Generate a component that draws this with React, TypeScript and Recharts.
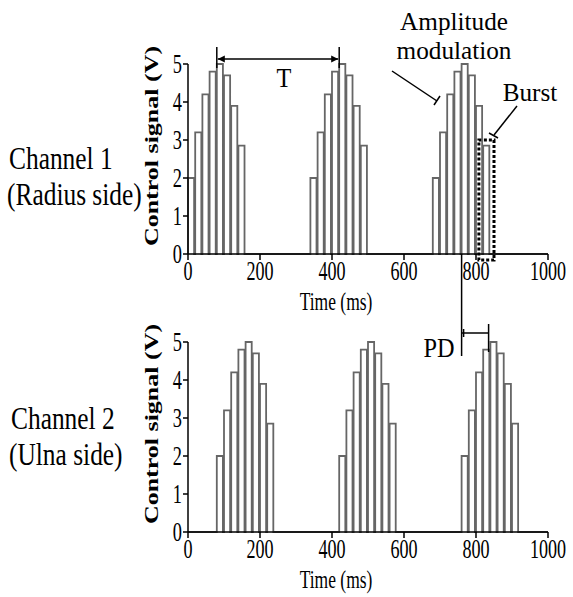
import React from 'react';
import { LineChart, Line, XAxis, YAxis, ReferenceArea } from 'recharts';

// pulse amplitudes inside one burst (V)
const amplitudes = [2.0, 3.2, 4.2, 4.8, 5.0, 4.7, 3.9, 2.85];
// burst start times (ms)
const ch1Bursts = [0, 340, 680];
const ch2Bursts = [80, 420, 760];
const pulsePeriod = 20;
const pulseOn = 17;
const timeEnd = 1000;
const xTicks = [0, 200, 400, 600, 800, 1000];
const yTicks = [0, 1, 2, 3, 4, 5];

function buildWave(starts: number[]) {
  const pts: { t: number; v: number }[] = [{ t: 0, v: 0 }];
  starts.forEach((s) => {
    amplitudes.forEach((a, i) => {
      const t0 = s + i * pulsePeriod;
      pts.push({ t: t0, v: 0 }, { t: t0, v: a }, { t: t0 + pulseOn, v: a }, { t: t0 + pulseOn, v: 0 });
    });
  });
  pts.push({ t: timeEnd, v: 0 });
  return pts;
}

const SERIF = '"Liberation Serif", "Times New Roman", serif';
const CHART_W = 573;
const CHART_H = 300;
const MARGIN = { top: 64, right: 25, bottom: 16, left: 128 };
const BOTTOM_OFFSET = 278;

const XTick = (props: any) => {
  const { x, y, payload } = props;
  return (
    <g transform={`translate(${x},${y})`}>
      <text transform="scale(0.67,1)" textAnchor="middle" dy="0.68em" fontSize={27} fontFamily={SERIF} fill="#000">
        {payload.value}
      </text>
    </g>
  );
};

const YTick = (props: any) => {
  const { x, y, payload } = props;
  return (
    <g transform={`translate(${x},${y})`}>
      <text transform="scale(0.68,1)" textAnchor="end" dy="0.34em" fontSize={27} fontFamily={SERIF} fill="#000">
        {payload.value}
      </text>
    </g>
  );
};

function SText({ x, y, children, size = 25, sx = 1, anchor = 'start' }: any) {
  return (
    <g transform={`translate(${x},${y})`}>
      <text transform={`scale(${sx},1)`} textAnchor={anchor} fontSize={size} fontFamily={SERIF} fill="#000">
        {children}
      </text>
    </g>
  );
}

function SignalChart({ data, top, burstBox }: { data: { t: number; v: number }[]; top: number; burstBox?: boolean }) {
  return (
    <div style={{ position: 'absolute', left: 0, top }}>
      <LineChart width={CHART_W} height={CHART_H} data={data} margin={MARGIN}>
        <XAxis
          dataKey="t"
          type="number"
          domain={[0, timeEnd]}
          ticks={xTicks}
          allowDuplicatedCategory={false}
          height={30}
          stroke="#000"
          strokeWidth={1.5}
          tickSize={6}
          tickMargin={2}
          tick={<XTick />}
        />
        <YAxis
          type="number"
          domain={[0, 5]}
          ticks={yTicks}
          width={60}
          stroke="#000"
          strokeWidth={1.5}
          tickSize={5}
          tickMargin={1}
          tick={<YTick />}
        />
        <Line
          type="linear"
          dataKey="v"
          stroke="#666666"
          strokeWidth={1.8}
          dot={false}
          isAnimationActive={false}
        />
        {burstBox && (
          <ReferenceArea
            x1={808}
            x2={850}
            y1={-0.16}
            y2={3.0}
            ifOverflow="visible"
            fill="none"
            fillOpacity={0}
            stroke="#000"
            strokeWidth={3}
            strokeDasharray="3 2"
          />
        )}
      </LineChart>
    </div>
  );
}

export default function App() {
  const ch1 = buildWave(ch1Bursts);
  const ch2 = buildWave(ch2Bursts);
  const xPx = (t: number) => 188 + t * 0.36;

  const yLabel = (cy: number) => (
    <g transform={`translate(158,${cy}) rotate(-90) scale(1,0.74)`}>
      <text textAnchor="middle" fontSize={26} fontWeight="bold" fontFamily={SERIF} fill="#000">
        Control signal (V)
      </text>
    </g>
  );

  return (
    <div style={{ position: 'absolute', left: 0, top: 0, width: 573, height: 597, background: '#fff', overflow: 'hidden' }}>
      <SignalChart data={ch1} top={0} burstBox />
      <SignalChart data={ch2} top={BOTTOM_OFFSET} />
      <svg width={573} height={597} style={{ position: 'absolute', left: 0, top: 0, pointerEvents: 'none' }}>
        {yLabel(146)}
        {yLabel(146 + BOTTOM_OFFSET)}
        <SText x={336} y={310} size={25} sx={0.7} anchor="middle">Time (ms)</SText>
        <SText x={336} y={310 + BOTTOM_OFFSET} size={25} sx={0.7} anchor="middle">Time (ms)</SText>

        <SText x={9} y={169} size={31} sx={0.82}>Channel 1</SText>
        <SText x={7} y={205} size={31} sx={0.82}>(Radius side)</SText>
        <SText x={11} y={429} size={31} sx={0.82}>Channel 2</SText>
        <SText x={9} y={465} size={31} sx={0.82}>(Ulna side)</SText>

        {/* period T */}
        <g stroke="#000" strokeWidth={1.5} fill="none">
          <line x1={xPx(80)} y1={47} x2={xPx(80)} y2={68} />
          <line x1={xPx(420)} y1={47} x2={xPx(420)} y2={68} />
          <line x1={xPx(80) + 1} y1={59} x2={xPx(420) - 1} y2={59} />
        </g>
        <path d={`M${xPx(80) + 1},59 l7,-3.5 l0,7 z`} fill="#000" />
        <path d={`M${xPx(420) - 1},59 l-7,-3.5 l0,7 z`} fill="#000" />
        <SText x={284} y={87} size={27} sx={0.9} anchor="middle">T</SText>

        {/* amplitude modulation */}
        <SText x={454} y={30} size={26} sx={0.97} anchor="middle">Amplitude</SText>
        <SText x={454} y={59} size={26} sx={0.97} anchor="middle">modulation</SText>
        <g stroke="#000" strokeWidth={1.5}>
          <line x1={392} y1={71} x2={437} y2={101} />
          <line x1={434} y1={105} x2={440} y2={96} />
        </g>

        {/* burst */}
        <SText x={530} y={101} size={26} sx={0.97} anchor="middle">Burst</SText>
        <g stroke="#000" strokeWidth={1.5}>
          <line x1={517} y1={106} x2={494} y2={135} />
          <line x1={489} y1={133} x2={498} y2={138} />
        </g>

        {/* phase delay */}
        <g stroke="#000" strokeWidth={1.5}>
          <line x1={xPx(760)} y1={254} x2={xPx(760)} y2={356} />
          <line x1={xPx(760)} y1={333} x2={xPx(835)} y2={333} />
          <line x1={xPx(835)} y1={324} x2={xPx(835)} y2={352} />
          <line x1={xPx(760) + 2} y1={329} x2={xPx(760) + 2} y2={337} />
        </g>
        <SText x={439} y={357} size={27} sx={0.9} anchor="middle">PD</SText>
      </svg>
    </div>
  );
}
